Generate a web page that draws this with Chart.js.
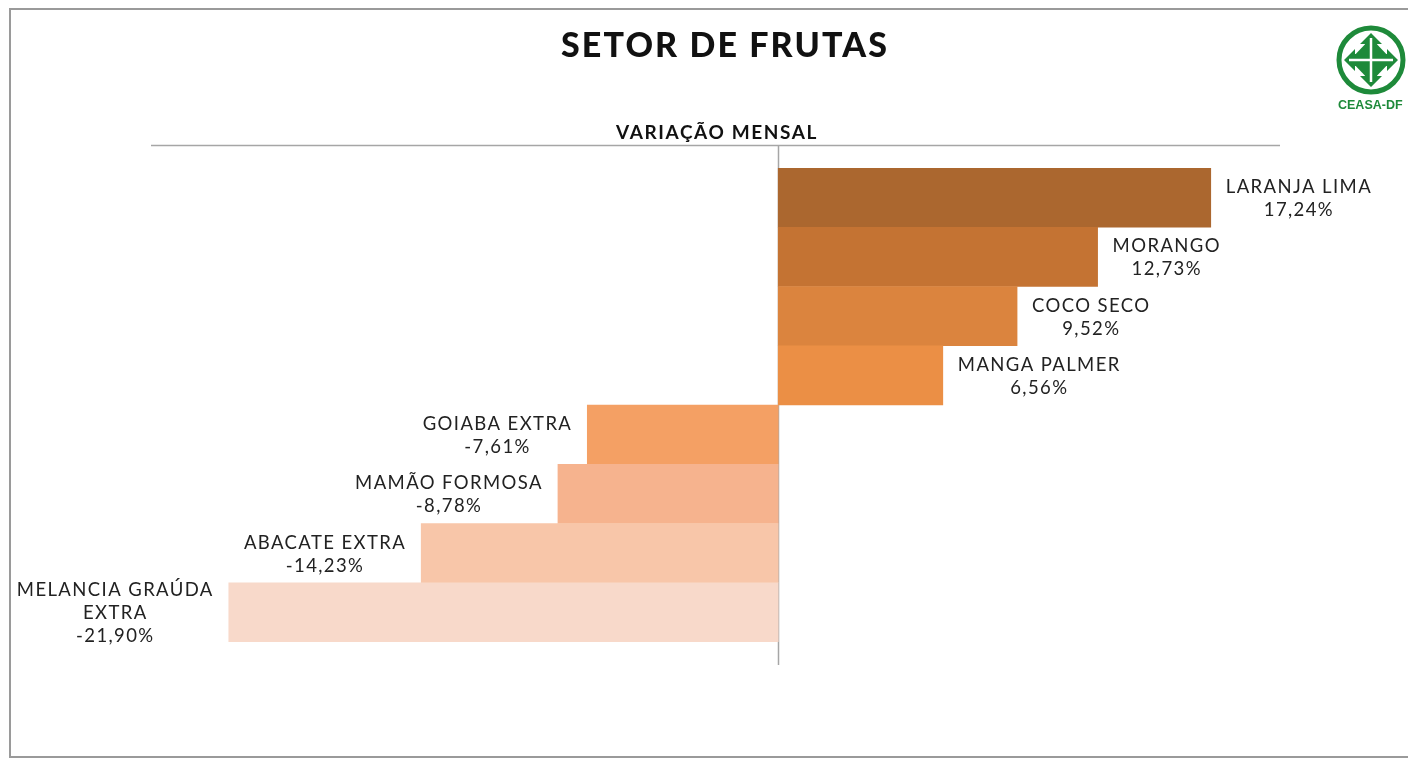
<!DOCTYPE html>
<html>
<head>
<meta charset="utf-8">
<script src="https://cdn.jsdelivr.net/npm/chart.js@4/dist/chart.umd.min.js"></script>
<style>
html,body{margin:0;padding:0;background:#fff;overflow:hidden;}
#wrap{position:relative;width:1408px;height:760px;}
#frame{position:absolute;left:9px;top:8px;width:1420px;height:750px;border:2px solid #9a9a9a;box-sizing:border-box;}
canvas{position:absolute;left:0;top:0;}
#logo{position:absolute;left:1330px;top:18px;}
</style>
</head>
<body>
<div id="wrap">
<div id="frame"></div>
<canvas id="c" width="1408" height="760"></canvas>
<svg id="logo" width="90" height="95" viewBox="0 0 90 95">
  <circle cx="41" cy="42" r="32" fill="none" stroke="#1e8a3a" stroke-width="5"/>
  <polygon points="41,15 52,26 47,26 47,36 57,36 57,31 68,42 57,53 57,48 47,48 47,58 52,58 41,69 30,58 35,58 35,48 25,48 25,53 14,42 25,31 25,36 35,36 35,26 30,26" fill="#1e8a3a"/>
  <polygon points="41,20 62,42 41,64 20,42" fill="#1e8a3a"/>
  <line x1="41" y1="20" x2="41" y2="64" stroke="#fff" stroke-width="2.5"/>
  <line x1="19" y1="42" x2="63" y2="42" stroke="#fff" stroke-width="2.5"/>
  <text x="8" y="91" font-family="Liberation Sans, Arial" font-weight="bold" font-size="12.5" fill="#1e8a3a">CEASA-DF</text>
</svg>
</div>
<script>
const categories = ['LARANJA LIMA','MORANGO','COCO SECO','MANGA PALMER','GOIABA EXTRA','MAMÃO FORMOSA','ABACATE EXTRA','MELANCIA GRAÚDA EXTRA'];
const values = [17.24, 12.73, 9.52, 6.56, -7.61, -8.78, -14.23, -21.90];
const barColors = ['#ab672f','#c47333','#db843e','#eb8f45','#f4a064','#f6b38e','#f8c6a9','#f8d9ca'];
const titleText = 'SETOR DE FRUTAS';
const subtitleText = 'VARIAÇÃO MENSAL';

const AXIS_COLOR = '#a6a6a6';

function wrapText(ctx, text, maxW){
  const words = text.split(' ');
  const lines = [];
  let cur = '';
  for (const w of words){
    const t = cur ? cur + ' ' + w : w;
    if (cur && ctx.measureText(t).width > maxW){ lines.push(cur); cur = w; }
    else cur = t;
  }
  if (cur) lines.push(cur);
  return lines;
}
function fmt(v){ return v.toFixed(2).replace('.', ',') + '%'; }

const decor = {
  id: 'decor',
  beforeDatasetsDraw(chart){
    const {ctx, chartArea:a, scales:{x}} = chart;
    const ext = 23;
    const x0 = Math.round(x.getPixelForValue(0)) + 0.5;
    ctx.save();
    ctx.strokeStyle = AXIS_COLOR;
    ctx.lineWidth = 1.5;
    ctx.beginPath();
    ctx.moveTo(a.left, a.top - ext + 0.5);
    ctx.lineTo(a.right, a.top - ext + 0.5);
    ctx.moveTo(x0, a.top - ext);
    ctx.lineTo(x0, a.bottom + ext);
    ctx.stroke();
    ctx.restore();
  },
  afterDraw(chart){
    const {ctx} = chart;
    ctx.save();
    ctx.fillStyle = '#111';
    ctx.textAlign = 'center';
    ctx.textBaseline = 'alphabetic';
    ctx.font = '900 34px Lato';
    ctx.letterSpacing = '2.1px';
    ctx.fillText(titleText, 725, 57);
    ctx.font = 'bold 19px Lato';
    ctx.letterSpacing = '1.6px';
    ctx.fillText(subtitleText, 717, 139);

    // data labels
    ctx.font = '18.5px Lato';
    ctx.letterSpacing = '1.4px';
    ctx.fillStyle = '#222';
    ctx.textBaseline = 'middle';
    const meta = chart.getDatasetMeta(0);
    const lineH = 23;
    const gap = 15;
    meta.data.forEach((bar, i) => {
      const lines = wrapText(ctx, categories[i], 240);
      lines.push(fmt(values[i]));
      const w = Math.max(...lines.map(l => ctx.measureText(l).width));
      let cx;
      if (values[i] >= 0) cx = bar.x + gap + w/2;
      else cx = bar.x - gap - w/2;
      const y0 = bar.y + 1 - (lines.length - 1) * lineH / 2;
      lines.forEach((l, k) => ctx.fillText(l, cx, y0 + k * lineH));
    });
    ctx.restore();
  }
};

new Chart(document.getElementById('c'), {
  type: 'bar',
  data: {
    labels: categories,
    datasets: [{
      data: values,
      backgroundColor: barColors,
      borderWidth: 0,
      barPercentage: 1,
      categoryPercentage: 1
    }]
  },
  options: {
    indexAxis: 'y',
    responsive: false,
    animation: false,
    layout: { padding: { left: 151, right: 128, top: 168, bottom: 118 } },
    plugins: { legend: { display: false }, tooltip: { enabled: false }, title: { display: false } },
    scales: {
      x: { display: false, min: -25, max: 20 },
      y: { display: false }
    }
  },
  plugins: [decor]
});
</script>
</body>
</html>
